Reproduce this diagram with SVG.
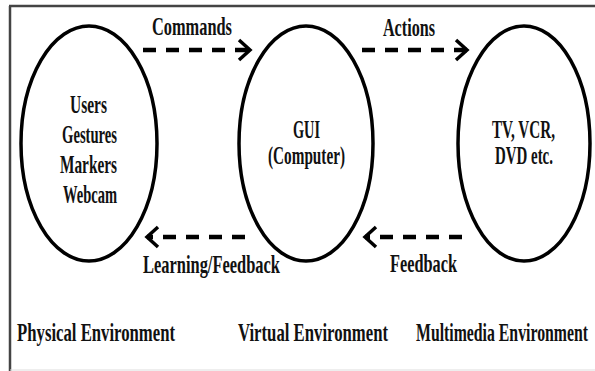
<svg xmlns="http://www.w3.org/2000/svg" width="595" height="371" viewBox="0 0 595 371">
<style>
.t{font-family:"Liberation Serif","Times New Roman",serif;font-weight:bold;font-size:25px;fill:#111}
.n{fill:none;stroke:#000;stroke-width:3.5}
.c{fill:none;stroke:#000;stroke-width:4.5;stroke-dasharray:13 10}
</style>
<defs>
<marker id="ah" markerUnits="userSpaceOnUse" markerWidth="20" markerHeight="26" refX="13" refY="12" orient="auto" viewBox="0 0 20 26">
<path d="M2,2 L13,12 L2,22" fill="none" stroke="#000" stroke-width="3.5"/>
</marker>
</defs>
<rect width="595" height="371" fill="#fff"/>
<g id="frame">
<line x1="9" y1="6" x2="595" y2="6" stroke="#444" stroke-width="2.5"/>
<line x1="10" y1="6" x2="10" y2="371" stroke="#444" stroke-width="2.5"/>
<line x1="10" y1="370" x2="595" y2="370" stroke="#ddd" stroke-width="1"/>
</g>
<g id="physical">
<ellipse class="n" cx="89" cy="143.5" rx="68" ry="117.5"/>
<text class="t" transform="scale(0.65,1)" x="107.7" y="113" textLength="56.9" lengthAdjust="spacingAndGlyphs">Users</text>
<text class="t" transform="scale(0.65,1)" x="95.4" y="143" textLength="84.6" lengthAdjust="spacingAndGlyphs">Gestures</text>
<text class="t" transform="scale(0.65,1)" x="92.3" y="173" textLength="87.7" lengthAdjust="spacingAndGlyphs">Markers</text>
<text class="t" transform="scale(0.65,1)" x="96.9" y="203" textLength="83.1" lengthAdjust="spacingAndGlyphs">Webcam</text>
</g>
<g id="virtual">
<ellipse class="n" cx="306" cy="143.5" rx="67" ry="117.5"/>
<text class="t" transform="scale(0.65,1)" x="450.8" y="138" textLength="41.5" lengthAdjust="spacingAndGlyphs">GUI</text>
<text class="t" transform="scale(0.65,1)" x="412.3" y="164" textLength="118.5" lengthAdjust="spacingAndGlyphs">(Computer)</text>
</g>
<g id="multimedia">
<ellipse class="n" cx="524" cy="143.5" rx="66" ry="117.5"/>
<text class="t" transform="scale(0.65,1)" x="756.9" y="138" textLength="96.9" lengthAdjust="spacingAndGlyphs">TV, VCR,</text>
<text class="t" transform="scale(0.65,1)" x="761.5" y="164" textLength="89.2" lengthAdjust="spacingAndGlyphs">DVD etc.</text>
</g>
<g id="connectors">
<line class="c" x1="143" y1="50" x2="250" y2="50" marker-end="url(#ah)"/>
<line class="c" x1="362" y1="50" x2="467" y2="50" marker-end="url(#ah)"/>
<line class="c" x1="245" y1="237" x2="147" y2="237" marker-end="url(#ah)"/>
<line class="c" x1="462" y1="237" x2="365" y2="237" marker-end="url(#ah)"/>
<text class="t" transform="scale(0.65,1)" x="233.8" y="35" textLength="123.1" lengthAdjust="spacingAndGlyphs">Commands</text>
<text class="t" transform="scale(0.65,1)" x="589.2" y="36" textLength="80" lengthAdjust="spacingAndGlyphs">Actions</text>
<text class="t" transform="scale(0.65,1)" x="220" y="273" textLength="210.8" lengthAdjust="spacingAndGlyphs">Learning/Feedback</text>
<text class="t" transform="scale(0.65,1)" x="600" y="272" textLength="103.1" lengthAdjust="spacingAndGlyphs">Feedback</text>
</g>
<g id="labels">
<text class="t" transform="scale(0.65,1)" x="26.2" y="341" textLength="243.1" lengthAdjust="spacingAndGlyphs">Physical Environment</text>
<text class="t" transform="scale(0.65,1)" x="366.2" y="341" textLength="230.8" lengthAdjust="spacingAndGlyphs">Virtual Environment</text>
<text class="t" transform="scale(0.65,1)" x="640" y="341" textLength="264.6" lengthAdjust="spacingAndGlyphs">Multimedia Environment</text>
</g>
</svg>
